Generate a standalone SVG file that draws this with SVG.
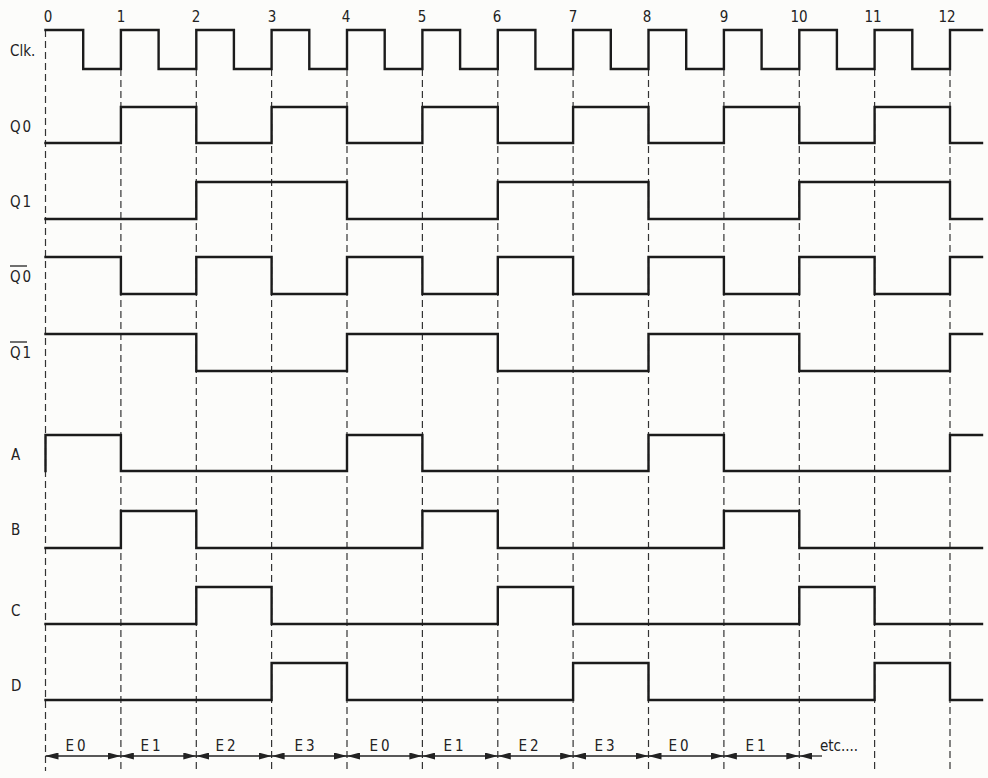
<svg xmlns="http://www.w3.org/2000/svg" width="988" height="778" viewBox="0 0 988 778">
<style>
.bg{fill:#fcfcfa}
.w{fill:none;stroke:#1b1b1b;stroke-width:2.4;stroke-linejoin:miter;stroke-linecap:square}
.d{stroke:#333;stroke-width:1.2;stroke-dasharray:7 4;fill:none}
.lbl{font-family:"DejaVu Sans Condensed","DejaVu Sans","Liberation Sans",sans-serif;font-size:15px;fill:#222}
.num{font-family:"DejaVu Sans Condensed","DejaVu Sans","Liberation Sans",sans-serif;font-size:15px;fill:#222;text-anchor:middle}
.e{font-family:"DejaVu Sans Condensed","DejaVu Sans","Liberation Sans",sans-serif;font-size:15px;fill:#222;text-anchor:middle;letter-spacing:3px}
.ov{stroke:#222;stroke-width:1.3}
.ar{stroke:#222;stroke-width:1.3;fill:none;marker-start:url(#ah);marker-end:url(#ah)}
</style>
<defs>
<marker id="ah" viewBox="0 -3.5 13 7" refX="13" refY="0" markerWidth="13" markerHeight="7" markerUnits="userSpaceOnUse" orient="auto-start-reverse">
<path d="M0,-3.5 L13,0 L0,3.5 Z" fill="#222"/>
</marker>
</defs>
<rect class="bg" x="0" y="0" width="988" height="778"/>

<g id="edge-numbers">
<text class="num" x="48" y="22">0</text>
<text class="num" x="121" y="22">1</text>
<text class="num" x="196" y="22">2</text>
<text class="num" x="272" y="22">3</text>
<text class="num" x="346" y="22">4</text>
<text class="num" x="422" y="22">5</text>
<text class="num" x="497" y="22">6</text>
<text class="num" x="573" y="22">7</text>
<text class="num" x="647" y="22">8</text>
<text class="num" x="724" y="22">9</text>
<text class="num" x="799" y="22">10</text>
<text class="num" x="873" y="22">11</text>
<text class="num" x="947" y="22">12</text>
</g>

<g id="connectors">
<line class="d" x1="45.5" y1="30" x2="45.5" y2="771"/>
<line class="d" x1="120.9" y1="69" x2="120.9" y2="771"/>
<line class="d" x1="196.3" y1="69" x2="196.3" y2="771"/>
<line class="d" x1="271.6" y1="69" x2="271.6" y2="771"/>
<line class="d" x1="347" y1="69" x2="347" y2="771"/>
<line class="d" x1="422.4" y1="69" x2="422.4" y2="771"/>
<line class="d" x1="497.8" y1="69" x2="497.8" y2="771"/>
<line class="d" x1="573.1" y1="69" x2="573.1" y2="771"/>
<line class="d" x1="648.5" y1="69" x2="648.5" y2="771"/>
<line class="d" x1="723.9" y1="69" x2="723.9" y2="771"/>
<line class="d" x1="799.3" y1="69" x2="799.3" y2="771"/>
<line class="d" x1="874.6" y1="69" x2="874.6" y2="771"/>
<line class="d" x1="950" y1="69" x2="950" y2="771"/>
</g>

<g id="clk">
<text class="lbl" x="10" y="56">Clk.</text>
<path class="w" d="M45.5,30 H83.2 V69 H120.9 V30 H158.6 V69 H196.3 V30 H233.9 V69 H271.6 V30 H309.3 V69 H347 V30 H384.7 V69 H422.4 V30 H460.1 V69 H497.8 V30 H535.4 V69 H573.1 V30 H610.8 V69 H648.5 V30 H686.2 V69 H723.9 V30 H761.6 V69 H799.3 V30 H836.9 V69 H874.6 V30 H912.3 V69 H950 V30 H982"/>
</g>

<g id="q0">
<text class="lbl" x="10" y="132" letter-spacing="2">Q0</text>
<path class="w" d="M45.5,143 H120.9 V107 H196.3 V143 H271.6 V107 H347 V143 H422.4 V107 H497.8 V143 H573.1 V107 H648.5 V143 H723.9 V107 H799.3 V143 H874.6 V107 H950 V143 H982"/>
</g>

<g id="q1">
<text class="lbl" x="10" y="207" letter-spacing="2">Q1</text>
<path class="w" d="M45.5,219 H196.3 V182 H347 V219 H497.8 V182 H648.5 V219 H799.3 V182 H950 V219 H982"/>
</g>

<g id="q0-bar">
<text class="lbl" x="10" y="282" letter-spacing="2">Q0</text>
<line class="ov" x1="10" y1="266" x2="27" y2="266"/>
<path class="w" d="M45.5,257 H120.9 V294 H196.3 V257 H271.6 V294 H347 V257 H422.4 V294 H497.8 V257 H573.1 V294 H648.5 V257 H723.9 V294 H799.3 V257 H874.6 V294 H950 V257 H982"/>
</g>

<g id="q1-bar">
<text class="lbl" x="10" y="358" letter-spacing="2">Q1</text>
<line class="ov" x1="10" y1="342" x2="27" y2="342"/>
<path class="w" d="M45.5,334 H196.3 V371 H347 V334 H497.8 V371 H648.5 V334 H799.3 V371 H950 V334 H982"/>
</g>

<g id="a">
<text class="lbl" x="11" y="460">A</text>
<path class="w" d="M45.5,471 V435 H120.9 V471 H347 V435 H422.4 V471 H648.5 V435 H723.9 V471 H950 V435 H982"/>
</g>

<g id="b">
<text class="lbl" x="11" y="535">B</text>
<path class="w" d="M45.5,548 H120.9 V511 H196.3 V548 H422.4 V511 H497.8 V548 H723.9 V511 H799.3 V548 H982"/>
</g>

<g id="c">
<text class="lbl" x="11" y="616">C</text>
<path class="w" d="M45.5,624 H196.3 V587 H271.6 V624 H497.8 V587 H573.1 V624 H799.3 V587 H874.6 V624 H982"/>
</g>

<g id="d">
<text class="lbl" x="11" y="691">D</text>
<path class="w" d="M45.5,700 H271.6 V663 H347 V700 H573.1 V663 H648.5 V700 H874.6 V663 H950 V700 H982"/>
</g>

<g id="states">
<line class="ar" x1="45.5" y1="756" x2="120.9" y2="756"/>
<line class="ar" x1="120.9" y1="756" x2="196.3" y2="756"/>
<line class="ar" x1="196.3" y1="756" x2="271.6" y2="756"/>
<line class="ar" x1="271.6" y1="756" x2="347" y2="756"/>
<line class="ar" x1="347" y1="756" x2="422.4" y2="756"/>
<line class="ar" x1="422.4" y1="756" x2="497.8" y2="756"/>
<line class="ar" x1="497.8" y1="756" x2="573.1" y2="756"/>
<line class="ar" x1="573.1" y1="756" x2="648.5" y2="756"/>
<line class="ar" x1="648.5" y1="756" x2="723.9" y2="756"/>
<line class="ar" x1="723.9" y1="756" x2="799.3" y2="756"/>
<line x1="822" y1="756" x2="799.3" y2="756" stroke="#222" stroke-width="1.3" marker-end="url(#ah)"/>
<text class="e" x="77" y="751">E0</text>
<text class="e" x="152" y="751">E1</text>
<text class="e" x="227" y="751">E2</text>
<text class="e" x="306" y="751">E3</text>
<text class="e" x="381" y="751">E0</text>
<text class="e" x="455" y="751">E1</text>
<text class="e" x="530" y="751">E2</text>
<text class="e" x="606" y="751">E3</text>
<text class="e" x="680" y="751">E0</text>
<text class="e" x="757" y="751">E1</text>
<text class="lbl" x="820" y="751">etc....</text>
</g>
</svg>
